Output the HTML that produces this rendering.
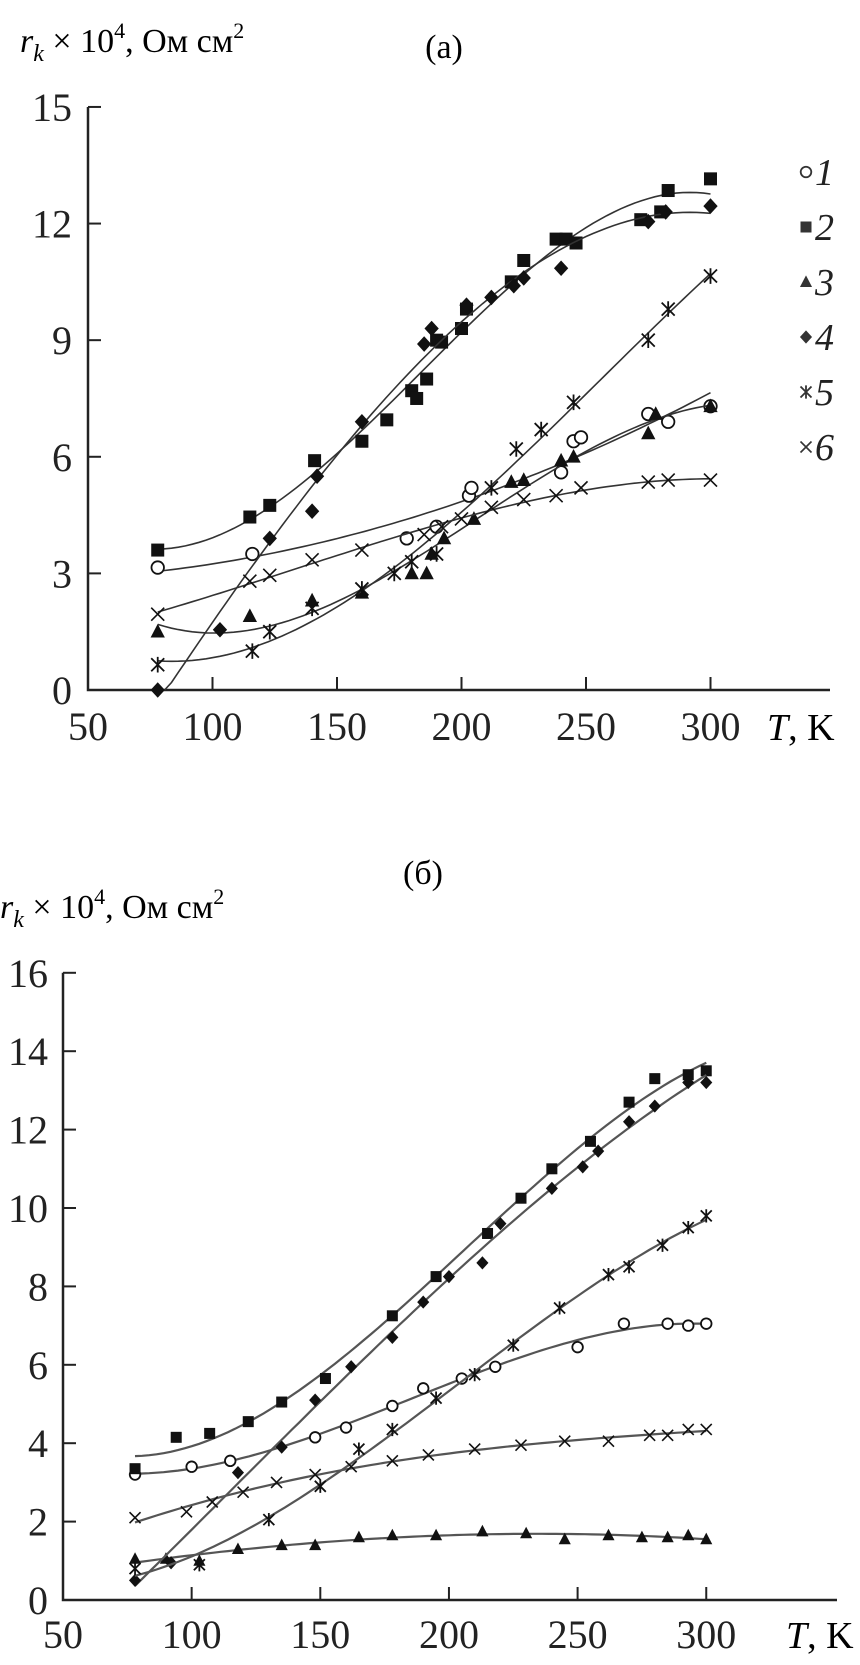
<!DOCTYPE html>
<html><head><meta charset="utf-8">
<style>
html,body{margin:0;padding:0;background:#fff;}
svg{display:block;font-family:"Liberation Serif",serif;}
</style></head>
<body>
<svg id="fig" width="860" height="1665" viewBox="0 0 860 1665" xmlns="http://www.w3.org/2000/svg">
  <g id="chartA">
    <text x="20" y="52" font-size="34"><tspan font-style="italic">r</tspan><tspan font-style="italic" font-size="24" dy="9">k</tspan><tspan dy="-9"> × 10</tspan><tspan font-size="22" dy="-14">4</tspan><tspan dy="14">, Ом см</tspan><tspan font-size="22" dy="-14">2</tspan></text>
    <text x="444" y="58" font-size="34" text-anchor="middle">(а)</text>
    <text x="767" y="740" font-size="38"><tspan font-style="italic">T</tspan>, K</text>
  </g>
  <g id="chartB">
    <text x="0" y="918" font-size="34"><tspan font-style="italic">r</tspan><tspan font-style="italic" font-size="24" dy="9">k</tspan><tspan dy="-9"> × 10</tspan><tspan font-size="22" dy="-14">4</tspan><tspan dy="14">, Ом см</tspan><tspan font-size="22" dy="-14">2</tspan></text>
    <text x="423" y="884" font-size="34" text-anchor="middle">(б)</text>
    <text x="786" y="1648" font-size="38"><tspan font-style="italic">T</tspan>, K</text>
  </g>
</svg>
<script>
// ---- Chart (a) data ----
const xTicksA = [50,100,150,200,250,300];
const yTicksA = [0,3,6,9,12,15];
const a1T=[78,116,178,190,203,204,240,245,248,275,283,300];
const a1V=[3.15,3.5,3.9,4.2,5.0,5.2,5.6,6.4,6.5,7.1,6.9,7.3];
const a2T=[78,115,123,141,160,170,180,182,186,190,192,200,202,220,225,238,242,246,272,280,283,300];
const a2V=[3.6,4.45,4.75,5.9,6.4,6.95,7.7,7.5,8.0,9.0,8.95,9.3,9.8,10.5,11.05,11.6,11.6,11.5,12.1,12.3,12.85,13.15];
const a3T=[78,115,140,160,180,186,188,193,205,220,225,240,245,275,278,300];
const a3V=[1.5,1.9,2.3,2.5,3.0,3.0,3.5,3.9,4.4,5.35,5.4,5.9,6.0,6.6,7.1,7.3];
const a4T=[78,103,123,140,142,160,185,188,202,212,221,225,240,275,282,300];
const a4V=[0.0,1.55,3.9,4.6,5.5,6.9,8.9,9.3,9.9,10.1,10.4,10.6,10.85,12.05,12.3,12.45];
const a5T=[78,116,123,140,160,173,180,190,212,222,232,245,275,283,300];
const a5V=[0.65,1.0,1.5,2.1,2.6,3.0,3.3,3.5,5.2,6.2,6.7,7.4,9.0,9.8,10.65];
const a6T=[78,115,123,140,160,185,192,200,212,225,238,248,275,283,300];
const a6V=[1.95,2.8,2.95,3.35,3.6,4.0,4.2,4.4,4.7,4.9,5.0,5.2,5.35,5.4,5.4];
// ---- Chart (b) data ----
const xTicksB = [50,100,150,200,250,300];
const yTicksB = [0,2,4,6,8,10,12,14,16];
const b1T=[78,100,115,148,160,178,190,205,218,250,268,285,293,300];
const b1V=[3.2,3.4,3.55,4.15,4.4,4.95,5.4,5.65,5.95,6.45,7.05,7.05,7.0,7.05];
const b2T=[78,94,107,122,135,152,178,195,215,228,240,255,270,280,293,300];
const b2V=[3.35,4.15,4.25,4.55,5.05,5.65,7.25,8.25,9.35,10.25,11.0,11.7,12.7,13.3,13.4,13.5];
const b3T=[78,90,103,118,135,148,165,178,195,213,230,245,262,275,285,293,300];
const b3V=[1.05,1.05,1.0,1.3,1.4,1.4,1.6,1.65,1.65,1.75,1.7,1.55,1.65,1.6,1.6,1.65,1.55];
const b4T=[78,92,118,135,148,162,178,190,200,213,220,240,252,258,270,280,293,300];
const b4V=[0.5,0.95,3.25,3.9,5.1,5.95,6.7,7.6,8.25,8.6,9.6,10.5,11.05,11.45,12.2,12.6,13.2,13.2];
const b5T=[78,103,130,150,165,178,195,210,225,243,262,270,283,293,300];
const b5V=[0.8,0.9,2.05,2.9,3.85,4.35,5.15,5.75,6.5,7.45,8.3,8.5,9.05,9.5,9.8];
const b6T=[78,98,108,120,133,148,162,178,192,210,228,245,262,278,285,293,300];
const b6V=[2.1,2.25,2.5,2.75,3.0,3.2,3.4,3.55,3.7,3.85,3.95,4.05,4.05,4.2,4.2,4.35,4.35];
const legendLabels=["1","2","3","4","5","6"];

const NS="http://www.w3.org/2000/svg";
function mk(tag,attrs,parent){const e=document.createElementNS(NS,tag);for(const k in attrs)e.setAttribute(k,attrs[k]);parent.appendChild(e);return e;}

function polyFit(T,V,deg){
  const n=deg+1, A=[...Array(n)].map(()=>Array(n+1).fill(0));
  for(let i=0;i<T.length;i++){const t=(T[i]-190)/110;const p=[];for(let k=0;k<n;k++)p.push(Math.pow(t,k));
    for(let r=0;r<n;r++){for(let c=0;c<n;c++)A[r][c]+=p[r]*p[c];A[r][n]+=p[r]*V[i];}}
  for(let i=0;i<n;i++){let m=i;for(let r=i+1;r<n;r++)if(Math.abs(A[r][i])>Math.abs(A[m][i]))m=r;[A[i],A[m]]=[A[m],A[i]];
    for(let r=0;r<n;r++){if(r===i)continue;const f=A[r][i]/A[i][i];for(let c=i;c<=n;c++)A[r][c]-=f*A[i][c];}}
  const co=A.map((row,i)=>row[n]/row[i]);
  return T0=>{const t=(T0-190)/110;let s=0;for(let k=0;k<n;k++)s+=co[k]*Math.pow(t,k);return s;};
}

function marker(g,type,x,y,s,col){
  let e;
  if(type===1){e=mk('circle',{cx:x,cy:y,r:s*0.48,fill:'#fff',stroke:col,'stroke-width':1.8},g);}
  else if(type===2){e=mk('rect',{x:x-s/2,y:y-s/2,width:s,height:s,fill:col},g);}
  else if(type===3){e=mk('polygon',{points:`${x},${y-s*0.6} ${x+s*0.55},${y+s*0.45} ${x-s*0.55},${y+s*0.45}`,fill:col},g);}
  else if(type===4){e=mk('polygon',{points:`${x},${y-s*0.6} ${x+s*0.55},${y} ${x},${y+s*0.6} ${x-s*0.55},${y}`,fill:col},g);}
  else if(type===5){const h=s*0.5;e=mk('path',{d:`M${x-h},${y-h}L${x+h},${y+h}M${x+h},${y-h}L${x-h},${y+h}M${x},${y-h*1.2}L${x},${y+h*1.2}`,stroke:col,'stroke-width':1.8,fill:'none'},g);}
  else {const h=s*0.5;e=mk('path',{d:`M${x-h},${y-h}L${x+h},${y+h}M${x+h},${y-h}L${x-h},${y+h}`,stroke:col,'stroke-width':1.6,fill:'none'},g);}
  return e;
}

function drawChart(cfg){
  const g=document.getElementById(cfg.id);
  const X=T=>cfg.x0+(T-50)*cfg.kx, Y=v=>cfg.y0-v*cfg.ky;
  const ax=mk('path',{d:`M${cfg.x0},${Y(cfg.yMax)}L${cfg.x0},${cfg.y0}L${cfg.xEnd},${cfg.y0}`,stroke:'#222','stroke-width':2.5,fill:'none'},g);
  
  
  cfg.yt.forEach(v=>{
    const t=mk('line',{x1:cfg.x0,x2:cfg.x0+13,y1:Y(v),y2:Y(v),stroke:'#222','stroke-width':2},g);
    
    
    const l=mk('text',{x:cfg.ylx,y:Y(v)+14,'font-size':40,'text-anchor':'end',fill:'#222'},g);l.textContent=v;
    
    
  });
  cfg.xt.forEach(v=>{
    if(v>50){const t=mk('line',{x1:X(v),x2:X(v),y1:cfg.y0,y2:cfg.y0-13,stroke:'#222','stroke-width':2},g);
    
    }
    const l=mk('text',{x:X(v),y:cfg.xly,'font-size':40,'text-anchor':'middle',fill:'#222'},g);l.textContent=v;
    
    
  });
  cfg.series.forEach((s,i)=>{
    const sg=mk('g',{},g);
    
    
    const f=polyFit(s[0],s[1],s[2]||3);const tmin=Math.min(...s[0]),tmax=Math.max(...s[0]);
    let d='';for(let k=0;k<=80;k++){const T=tmin+(tmax-tmin)*k/80;d+=(k?'L':'M')+X(T).toFixed(1)+','+Y(Math.max(f(T),0)).toFixed(1);}
    const ln=mk('path',{d,stroke:cfg.lc,'stroke-width':cfg.lw,fill:'none'},sg);
    
    
    s[0].forEach((T,j)=>{const m=marker(sg,i+1,X(T),Y(s[1][j]),cfg.ms,'#111');
      
      });
  });
  if(cfg.legend){
    legendLabels.forEach((lab,i)=>{
      const y=172+i*55;
      const lg=mk('g',{},g);
      
      
      marker(lg,i+1,806,y,11,'#333');
      const t=mk('text',{x:815,y:y+13,'font-size':38,'font-style':'italic',fill:'#222'},lg);t.textContent=lab;
    });
  }
}
drawChart({id:'chartA',tag:'a',x0:88,y0:690,kx:2.49,ky:38.87,yMax:15,xEnd:830,ylx:72,xly:740,yt:yTicksA,xt:xTicksA,lc:'#333',lw:1.6,ms:13,legend:true,
  series:[[a1T,a1V,2],[a2T,a2V],[a3T,a3V],[a4T,a4V],[a5T,a5V],[a6T,a6V]]});
drawChart({id:'chartB',tag:'b',x0:63,y0:1600,kx:2.573,ky:39.2,yMax:16,xEnd:837,ylx:48,xly:1648,yt:yTicksB,xt:xTicksB,lc:'#555',lw:2.2,ms:11,legend:false,
  series:[[b1T,b1V],[b2T,b2V],[b3T,b3V],[b4T,b4V],[b5T,b5V],[b6T,b6V]]});
</script>
</body></html>
